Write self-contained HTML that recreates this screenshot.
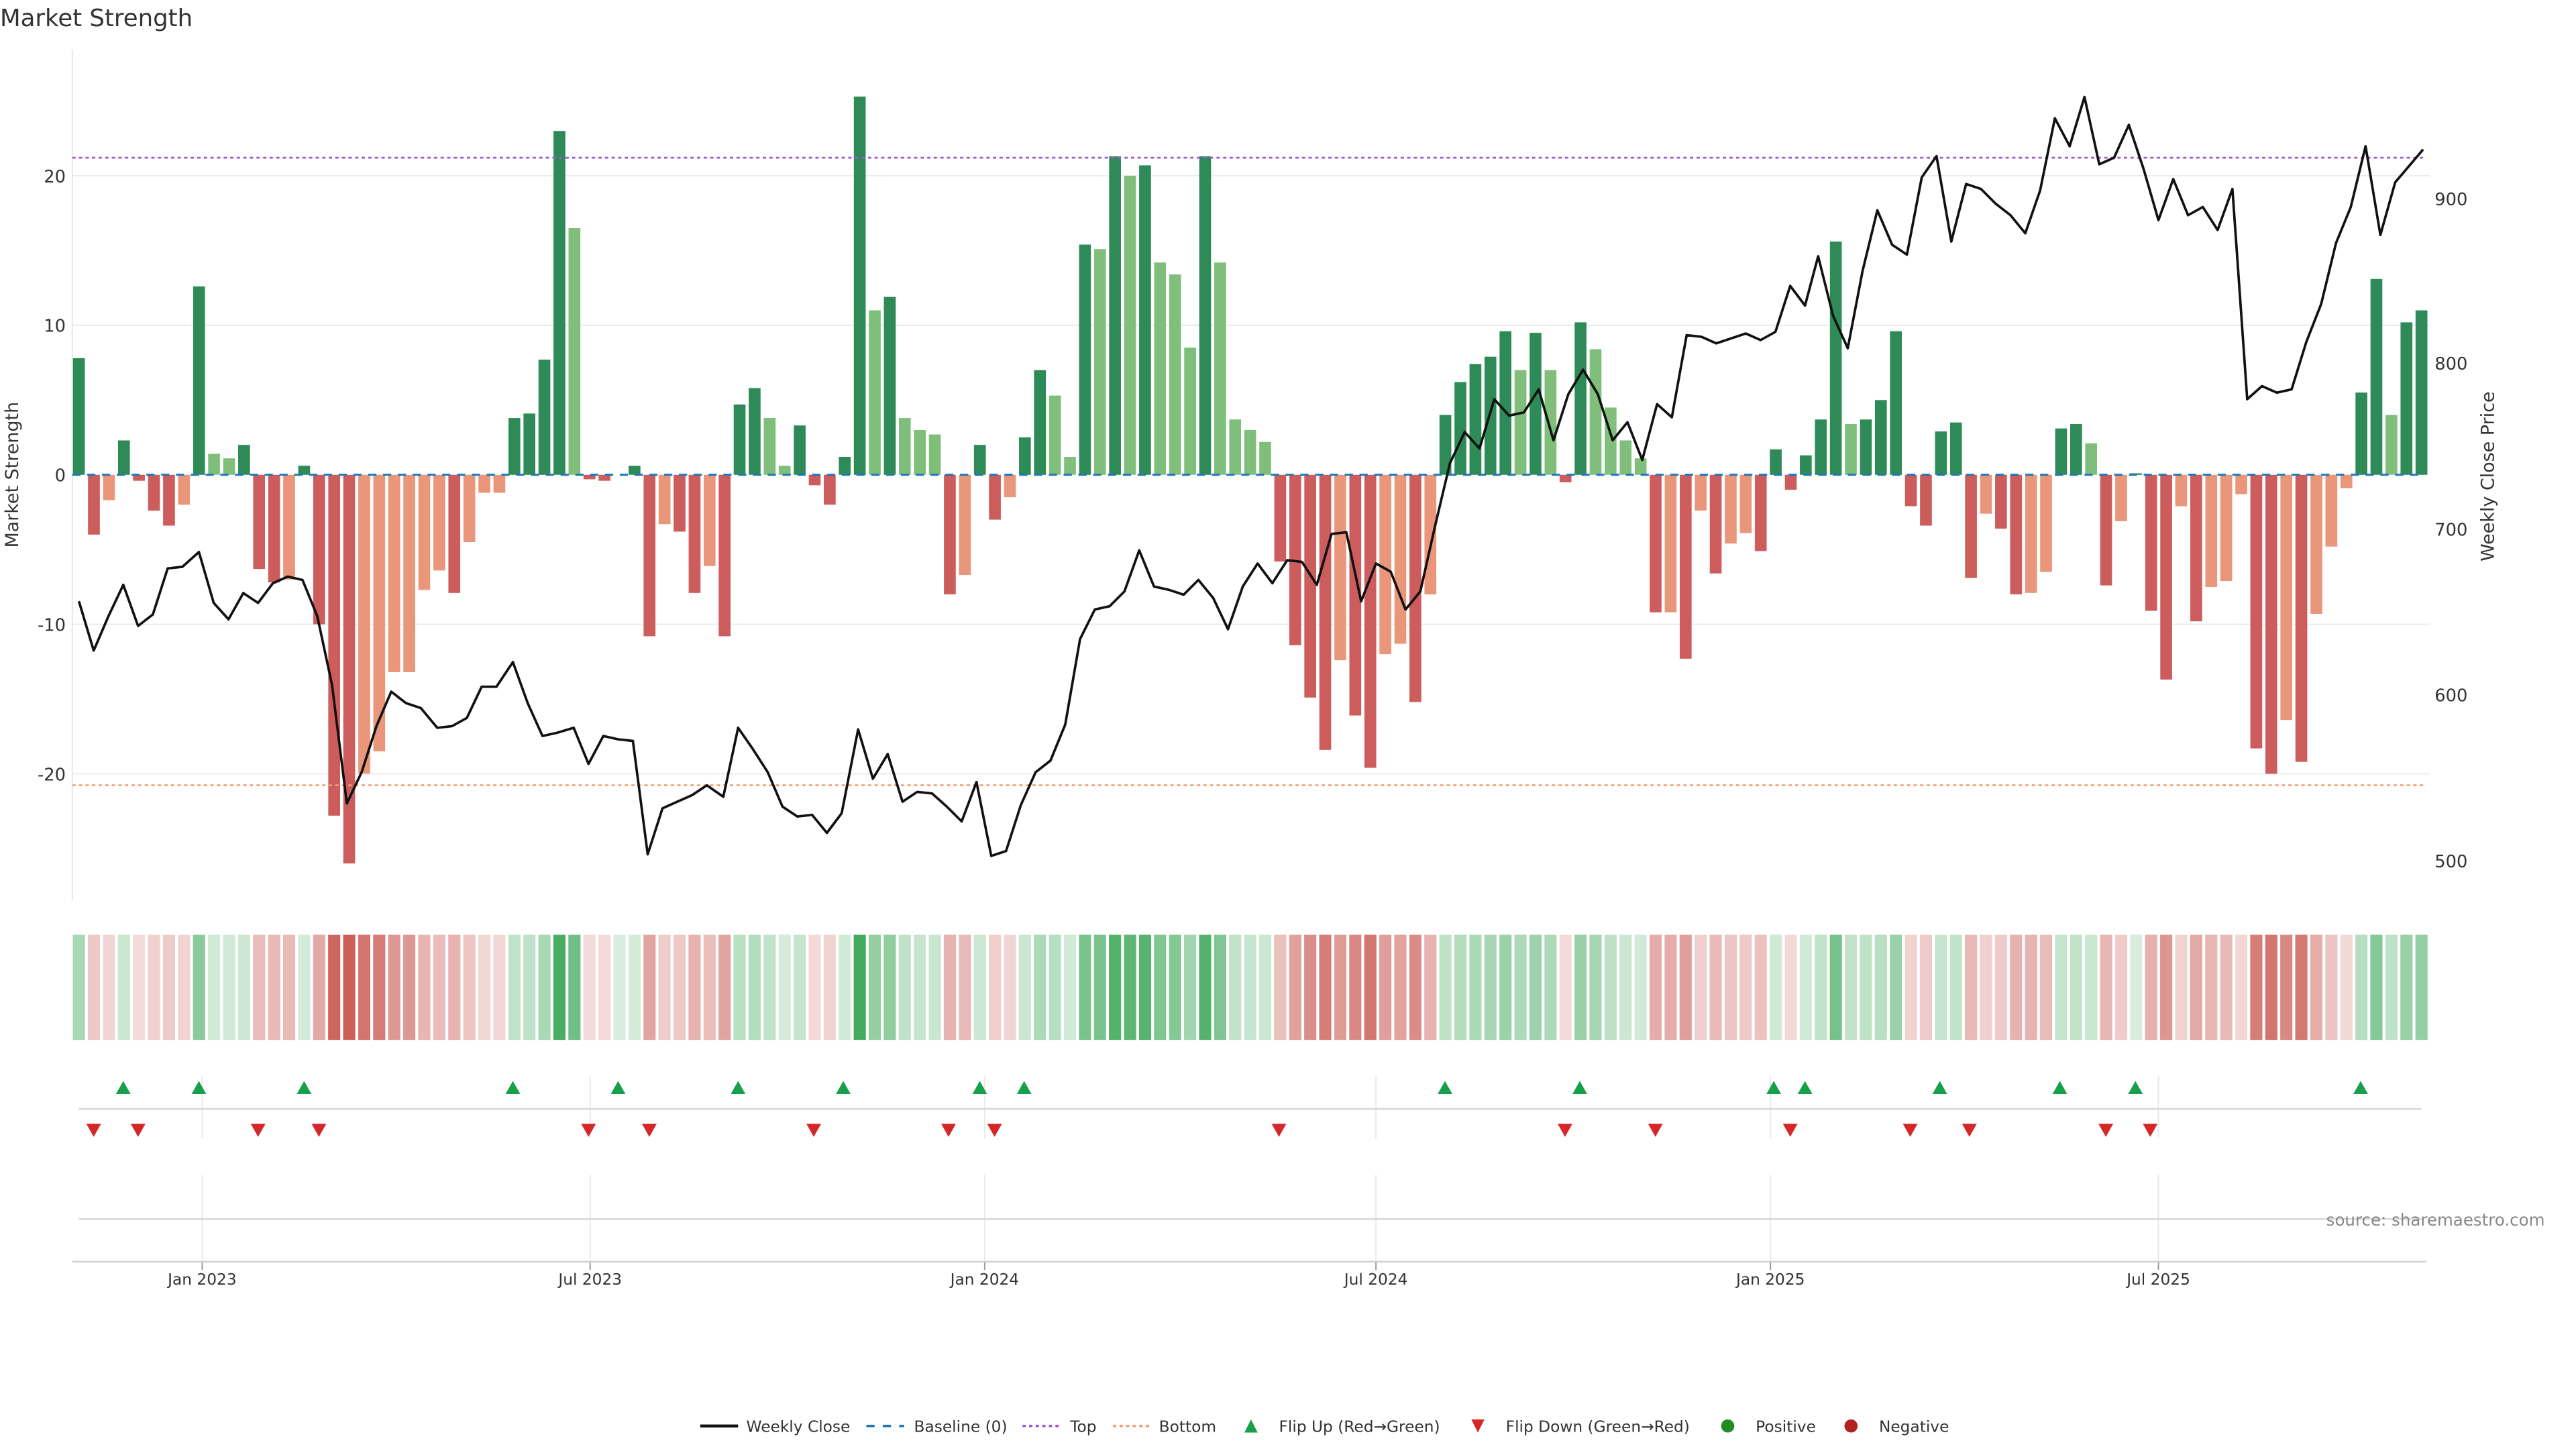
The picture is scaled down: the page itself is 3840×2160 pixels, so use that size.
<!DOCTYPE html>
<html><head><meta charset="utf-8"><style>
html,body{margin:0;padding:0;background:#fff;}
svg{display:block;font-family:"DejaVu Sans","Liberation Sans",sans-serif;}
</style></head><body>
<svg id="s" width="3840" height="2160" viewBox="0 0 1567 882" preserveAspectRatio="none" xmlns="http://www.w3.org/2000/svg">
<rect width="1567" height="882" fill="#fff"/>
<text x="0" y="16" font-size="14.5" fill="#333">Market Strength</text>
<g id="g"></g>
</svg>
<script>
const NS="http://www.w3.org/2000/svg",g=document.getElementById('g');
function el(t,a,txt){const e=document.createElementNS(NS,t);for(const k in a)e.setAttribute(k,a[k]);if(txt!==undefined)e.textContent=txt;g.appendChild(e);return e;}
const Z=289,U=9.1,L=44,R=1478;
// gridlines
[20,10,-10,-20].forEach(v=>el('line',{x1:L,x2:R,y1:Z-v*U,y2:Z-v*U,stroke:'#ececec','stroke-width':0.8}));
el('line',{x1:L,x2:L,y1:30,y2:548,stroke:'#e6e6e6','stroke-width':0.8});
[20,10,0,-10,-20].forEach(v=>el('text',{x:40,y:Z-v*U+4,'font-size':10.5,'text-anchor':'end',fill:'#333'},String(v)));
[[900,121],[800,221],[700,322],[600,423],[500,524]].forEach(p=>el('text',{x:1481,y:p[1]+4,'font-size':10.5,fill:'#333'},String(p[0])));
el('text',{x:11,y:289,'font-size':11,'text-anchor':'middle',fill:'#333',transform:'rotate(-90 11 289)'},'Market Strength');
el('text',{x:1517,y:290,'font-size':11,'text-anchor':'middle',fill:'#333',transform:'rotate(-90 1517 290)'},'Weekly Close Price');
// bars: [value, type] type: G dark green, g light, R red, S salmon
const B=[[7.8,'G'],[-4,'R'],[-1.7,'S'],[2.3,'G'],[-0.4,'R'],[-2.4,'R'],[-3.4,'R'],[-2,'S'],[12.6,'G'],[1.4,'g'],[1.1,'g'],[2,'G'],[-6.3,'R'],[-7.2,'R'],[-7,'S'],[0.6,'G'],[-10,'R'],[-22.8,'R'],[-26,'R'],[-20,'S'],[-18.5,'S'],[-13.2,'S'],[-13.2,'S'],[-7.7,'S'],[-6.4,'S'],[-7.9,'R'],[-4.5,'S'],[-1.2,'S'],[-1.2,'S'],[3.8,'G'],[4.1,'G'],[7.7,'G'],[23,'G'],[16.5,'g'],[-0.3,'R'],[-0.4,'R'],[0,'G'],[0.6,'G'],[-10.8,'R'],[-3.3,'S'],[-3.8,'R'],[-7.9,'R'],[-6.1,'S'],[-10.8,'R'],[4.7,'G'],[5.8,'G'],[3.8,'g'],[0.6,'g'],[3.3,'G'],[-0.7,'R'],[-2,'R'],[1.2,'G'],[25.3,'G'],[11,'g'],[11.9,'G'],[3.8,'g'],[3,'g'],[2.7,'g'],[-8,'R'],[-6.7,'S'],[2,'G'],[-3,'R'],[-1.5,'S'],[2.5,'G'],[7,'G'],[5.3,'g'],[1.2,'g'],[15.4,'G'],[15.1,'g'],[21.3,'G'],[20,'g'],[20.7,'G'],[14.2,'g'],[13.4,'g'],[8.5,'g'],[21.3,'G'],[14.2,'g'],[3.7,'g'],[3,'g'],[2.2,'g'],[-5.8,'R'],[-11.4,'R'],[-14.9,'R'],[-18.4,'R'],[-12.4,'S'],[-16.1,'R'],[-19.6,'R'],[-12,'S'],[-11.3,'S'],[-15.2,'R'],[-8,'S'],[4,'G'],[6.2,'G'],[7.4,'G'],[7.9,'G'],[9.6,'G'],[7,'g'],[9.5,'G'],[7,'g'],[-0.5,'R'],[10.2,'G'],[8.4,'g'],[4.5,'g'],[2.3,'g'],[1.1,'g'],[-9.2,'R'],[-9.2,'S'],[-12.3,'R'],[-2.4,'S'],[-6.6,'R'],[-4.6,'S'],[-3.9,'S'],[-5.1,'R'],[1.7,'G'],[-1,'R'],[1.3,'G'],[3.7,'G'],[15.6,'G'],[3.4,'g'],[3.7,'G'],[5,'G'],[9.6,'G'],[-2.1,'R'],[-3.4,'R'],[2.9,'G'],[3.5,'G'],[-6.9,'R'],[-2.6,'S'],[-3.6,'R'],[-8,'R'],[-7.9,'S'],[-6.5,'S'],[3.1,'G'],[3.4,'G'],[2.1,'g'],[-7.4,'R'],[-3.1,'S'],[0.1,'G'],[-9.1,'R'],[-13.7,'R'],[-2.1,'S'],[-9.8,'R'],[-7.5,'S'],[-7.1,'S'],[-1.3,'S'],[-18.3,'R'],[-20,'R'],[-16.4,'S'],[-19.2,'R'],[-9.3,'S'],[-4.8,'S'],[-0.9,'S'],[5.5,'G'],[13.1,'G'],[4,'g'],[10.2,'G'],[11,'G']];
const C={G:'#2e8b57',g:'#7fbf7b',R:'#cd5c5c',S:'#e9967a'};
const N=B.length,x0=48,dx=(1473-48)/(N-1),w=7.2;
B.forEach((b,i)=>{const x=x0+i*dx,h=Math.abs(b[0])*U;const y=b[0]>=0?Z-h:Z;
 if(h>0.2)el('rect',{x:x-w/2,y:y,width:w,height:h,fill:C[b[1]]});});
// baseline dashes
el('line',{x1:L,x2:R-4,y1:Z,y2:Z,stroke:'#1f77b4','stroke-width':1.2,'stroke-dasharray':'5 4'});
el('line',{x1:L,x2:R-4,y1:96,y2:96,stroke:'#9b59d6','stroke-width':1.1,'stroke-dasharray':'2 2'});
el('line',{x1:L,x2:R-4,y1:478,y2:478,stroke:'#f0a070','stroke-width':1.1,'stroke-dasharray':'2 2'});
// price line
const P=[[48,366],[57,396],[66,375],[75,356],[84,381],[93,374],[102,346],[111,345],[121,336],[130,367],[139,377],[148,361],[157,367],[166,355],[175,351],[184,353],[193,375],[202,417],[211,489],[220,470],[229,442],[238,421],[247,428],[256,431],[266,443],[275,442],[284,437],[293,418],[302,418],[312,403],[321,428],[330,448],[339,446],[349,443],[358,465],[367,448],[376,450],[385,451],[394,520],[403,492],[412,488],[421,484],[430,478],[440,485],[449,443],[458,456],[467,470],[476,491],[485,497],[494,496],[503,507],[512,495],[522,444],[531,474],[540,459],[549,488],[558,482],[567,483],[576,491],[585,500],[594,476],[603,521],[612,518],[621,490],[630,470],[639,463],[648,441],[657,389],[666,371],[675,369],[684,360],[693,335],[702,357],[711,359],[720,362],[729,353],[738,364],[747,383],[756,357],[765,343],[774,355],[783,341],[792,342],[801,356],[810,325],[819,324],[828,366],[837,343],[846,348],[855,371],[864,360],[873,320],[882,282],[891,263],[900,273],[909,243],[918,253],[927,251],[936,237],[945,268],[954,240],[963,225],[972,240],[981,268],[990,257],[999,280],[1008,246],[1017,254],[1026,204],[1035,205],[1044,209],[1053,206],[1062,203],[1071,207],[1080,202],[1089,174],[1098,186],[1106,156],[1115,192],[1124,212],[1133,165],[1142,128],[1151,149],[1160,155],[1169,108],[1178,95],[1187,147],[1196,112],[1205,115],[1214,124],[1223,131],[1232,142],[1241,116],[1250,72],[1259,89],[1268,59],[1277,100],[1286,96],[1295,76],[1304,103],[1313,134],[1322,109],[1331,131],[1340,126],[1349,140],[1358,115],[1367,243],[1376,235],[1385,239],[1394,237],[1403,208],[1412,185],[1421,148],[1430,126],[1439,89],[1448,143],[1457,111],[1474,91]];
el('polyline',{points:P.map(p=>p.join(',')).join(' '),fill:'none',stroke:'#111','stroke-width':1.5,'stroke-linejoin':'round'});
// heatmap
B.forEach((b,i)=>{const x=x0+i*dx,v=b[0];const t=Math.min(Math.abs(v)/24,1)*0.75+0.2;
 el('rect',{x:x-3.7,y:569,width:7.4,height:64,fill:v>=0?'#3aa655':'#c9574f','fill-opacity':t.toFixed(2)});});
// x grid in lower panels
const XT=[[123,'Jan 2023'],[359,'Jul 2023'],[599,'Jan 2024'],[837,'Jul 2024'],[1077,'Jan 2025'],[1313,'Jul 2025']];
XT.forEach(t=>{el('line',{x1:t[0],x2:t[0],y1:655,y2:693,stroke:'#eaeaea','stroke-width':0.8});
 el('line',{x1:t[0],x2:t[0],y1:715,y2:768,stroke:'#eaeaea','stroke-width':0.8});
 el('line',{x1:t[0],x2:t[0],y1:768,y2:773,stroke:'#999','stroke-width':0.8});
 el('text',{x:t[0],y:782,'font-size':9.5,'text-anchor':'middle',fill:'#333'},t[1]);});
el('line',{x1:48,x2:1473,y1:675,y2:675,stroke:'#d6d6d6','stroke-width':1});
el('line',{x1:48,x2:1473,y1:742,y2:742,stroke:'#d6d6d6','stroke-width':1});
el('line',{x1:44,x2:1476,y1:768,y2:768,stroke:'#d0d0d0','stroke-width':1});
[75,121,185,312,376,449,513,596,623,879,961,1079,1098,1180,1253,1299,1436].forEach(x=>el('polygon',{points:`${x-4.5},666 ${x+4.5},666 ${x},658`,fill:'#16a04a'}));
[57,84,157,194,358,395,495,577,605,778,952,1007,1089,1162,1198,1281,1308].forEach(x=>el('polygon',{points:`${x-4.5},684 ${x+4.5},684 ${x},692`,fill:'#d62728'}));
el('text',{x:1548,y:746,'font-size':10,'text-anchor':'end',fill:'#888'},'source: sharemaestro.com');
// legend
const LY=868;
el('line',{x1:426,x2:449,y1:LY,y2:LY,stroke:'#111','stroke-width':1.8});
el('text',{x:454,y:LY+3.5,'font-size':9.5,fill:'#333'},'Weekly Close');
el('line',{x1:527,x2:550,y1:LY,y2:LY,stroke:'#1f77b4','stroke-width':1.5,'stroke-dasharray':'5 5'});
el('text',{x:556,y:LY+3.5,'font-size':9.5,fill:'#333'},'Baseline (0)');
el('line',{x1:622,x2:645,y1:LY,y2:LY,stroke:'#9b59d6','stroke-width':1.5,'stroke-dasharray':'2 2'});
el('text',{x:651,y:LY+3.5,'font-size':9.5,fill:'#333'},'Top');
el('line',{x1:677,x2:700,y1:LY,y2:LY,stroke:'#f0a070','stroke-width':1.5,'stroke-dasharray':'2 2'});
el('text',{x:705,y:LY+3.5,'font-size':9.5,fill:'#333'},'Bottom');
el('polygon',{points:'757,872 765,872 761,864',fill:'#16a04a'});
el('text',{x:778,y:LY+3.5,'font-size':9.5,fill:'#333'},'Flip Up (Red→Green)');
el('polygon',{points:'895,864 903,864 899,872',fill:'#d62728'});
el('text',{x:916,y:LY+3.5,'font-size':9.5,fill:'#333'},'Flip Down (Green→Red)');
el('circle',{cx:1051,cy:LY,r:4,fill:'#228b22'});
el('text',{x:1068,y:LY+3.5,'font-size':9.5,fill:'#333'},'Positive');
el('circle',{cx:1126,cy:LY,r:4,fill:'#b22222'});
el('text',{x:1143,y:LY+3.5,'font-size':9.5,fill:'#333'},'Negative');
</script>
</body></html>
